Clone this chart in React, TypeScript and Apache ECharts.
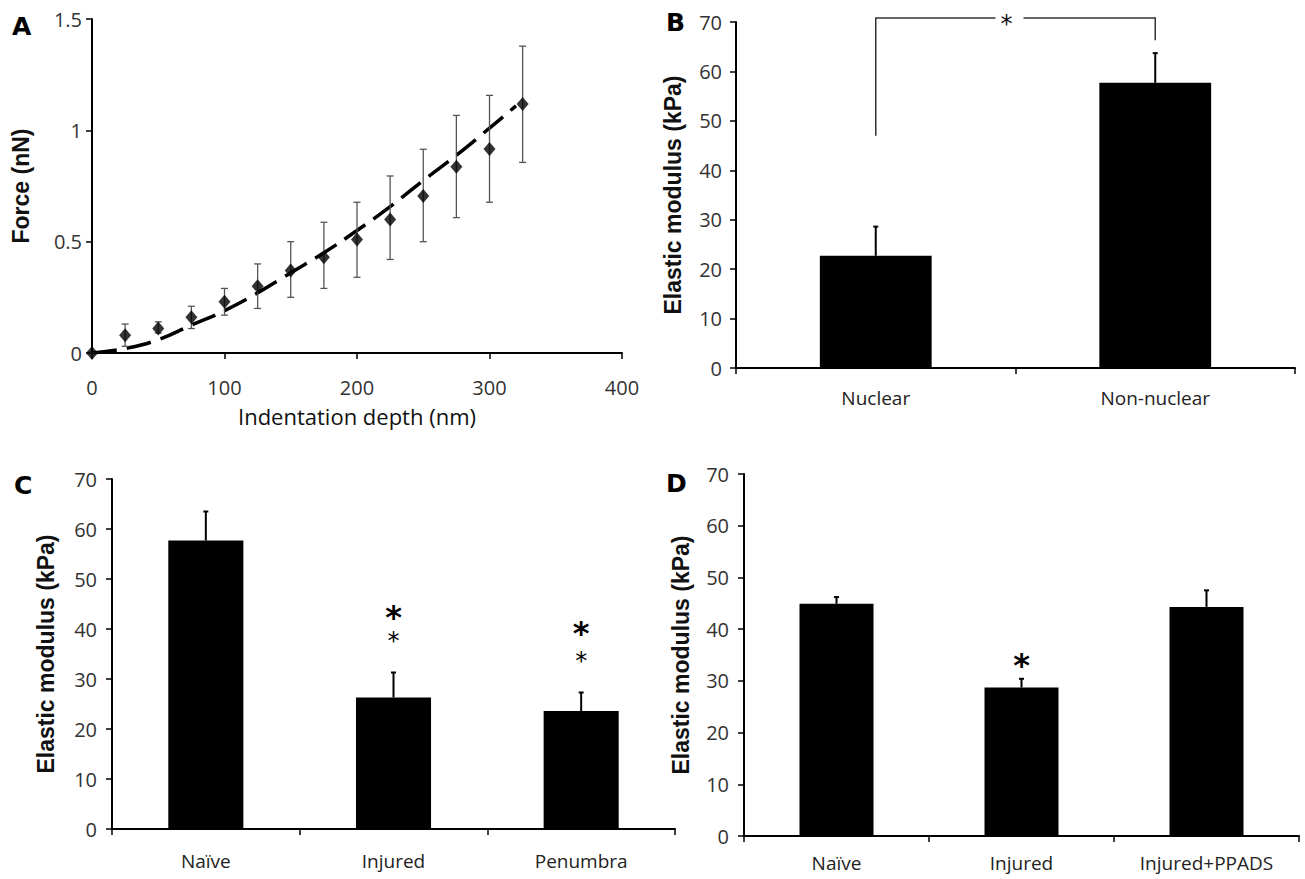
import React, { useEffect, useRef } from "react";
import * as echarts from "echarts";

// Panel A: force vs indentation depth
const depthNm = [0, 25, 50, 75, 100, 125, 150, 175, 200, 225, 250, 275, 300, 325];
const forceMean = [0, 0.08, 0.11, 0.16, 0.23, 0.3, 0.37, 0.43, 0.51, 0.6, 0.705, 0.837, 0.916, 1.118];
const forceLow = [0, 0.03, 0.09, 0.11, 0.17, 0.2, 0.25, 0.29, 0.34, 0.42, 0.5, 0.608, 0.677, 0.856];
const forceHigh = [0, 0.13, 0.14, 0.21, 0.29, 0.4, 0.5, 0.587, 0.677, 0.795, 0.915, 1.067, 1.157, 1.378];
const fitDepth = [0, 25, 50, 75, 100, 125, 150, 175, 200, 225, 250, 275, 300, 320];
const fitForce = [0, 0.02, 0.06, 0.125, 0.19, 0.27, 0.36, 0.45, 0.55, 0.657, 0.775, 0.888, 1.01, 1.11];
const aXTicks = [0, 400, 100];
const aYTicks = [0, 1.5, 0.5];

// Panel B
const bCats = ["Nuclear", "Non-nuclear"];
const bMean = [22.7, 57.7];
const bSem = [5.9, 6.0];
// bracket: left category, left bottom, top, right category, right bottom
const bBracket = [0, 47.0, 70.8, 1, 66.3];

// Panel C
const cCats = ["Naïve", "Injured", "Penumbra"];
const cMean = [57.7, 26.3, 23.6];
const cSem = [5.8, 5.0, 3.7];
const cStarCats = [1, 2];
const cBigStarY = [43.3, 40.1];
const cSmallStarY = [38.5, 34.5];

// Panel D
const dCats = ["Naïve", "Injured", "Injured+PPADS"];
const dMean = [44.9, 28.7, 44.3];
const dSem = [1.3, 1.7, 3.2];
const dStarCats = [1];
const dBigStarY = [34.0];

const modTicks = [0, 70, 10];

const TICK_FONT = "'Open Sans', sans-serif";
const BOLD_FONT = "'Liberation Sans', Arial, sans-serif";
const STAR_FONT = "'DejaVu Sans', sans-serif";
const BIG_STAR = 32;
const SMALL_STAR = 24;
const GLYPH_SHIFT = 0.14;

function errRender(capHalf: number, lineW: number, color: string, lowCap: boolean) {
  return (_params: any, api: any) => {
    const x = api.value(0);
    const lo = api.value(1);
    const hi = api.value(2);
    const pLo = api.coord([x, lo]);
    const pHi = api.coord([x, hi]);
    const style = { stroke: color, lineWidth: lineW, fill: "none" };
    const children: any[] = [
      { type: "line", shape: { x1: pLo[0], y1: pLo[1], x2: pHi[0], y2: pHi[1] }, style },
      { type: "line", shape: { x1: pHi[0] - capHalf, y1: pHi[1], x2: pHi[0] + capHalf, y2: pHi[1] }, style },
    ];
    if (lowCap) {
      children.push({
        type: "line",
        shape: { x1: pLo[0] - capHalf, y1: pLo[1], x2: pLo[0] + capHalf, y2: pLo[1] },
        style,
      });
    }
    return { type: "group", children };
  };
}

// one big bold star above one small star, as a single two-line text
function starPairRender(_params: any, api: any) {
  const x = api.value(0);
  const pBig = api.coord([x, api.value(1)]);
  const pSmall = api.coord([x, api.value(2)]);
  const gap = pSmall[1] - pBig[1];
  const top = pBig[1] - gap / 2 + BIG_STAR * GLYPH_SHIFT;
  return {
    type: "text",
    x: pBig[0],
    y: top,
    style: {
      text: "{b|*}\n{s|*}",
      align: "center",
      verticalAlign: "top",
      fill: "#000",
      rich: {
        b: { fontSize: BIG_STAR, fontWeight: "bold", fontFamily: STAR_FONT, lineHeight: gap, fill: "#000", align: "center" },
        s: { fontSize: SMALL_STAR, fontFamily: STAR_FONT, lineHeight: gap, fill: "#000", align: "center" },
      },
    },
  };
}

function starRender(_params: any, api: any) {
  const x = api.value(0);
  const p = api.coord([x, api.value(1)]);
  return {
    type: "text",
    x: p[0],
    y: p[1] + BIG_STAR * GLYPH_SHIFT,
    style: {
      text: "*",
      fontSize: BIG_STAR,
      fontWeight: "bold",
      fontFamily: STAR_FONT,
      fill: "#000",
      align: "center",
      verticalAlign: "middle",
    },
  };
}

function bracketRender(_params: any, api: any) {
  const lc = api.value(0);
  const lb = api.value(1);
  const top = api.value(2);
  const rc = api.value(3);
  const rb = api.value(4);
  const p1 = api.coord([lc, lb]);
  const p2 = api.coord([lc, top]);
  const p3 = api.coord([rc, top]);
  const p4 = api.coord([rc, rb]);
  const mid = (p2[0] + p3[0]) / 2 - 6;
  const gap = 14;
  const style = { stroke: "#333", lineWidth: 1.5, fill: "none" };
  return {
    type: "group",
    children: [
      { type: "polyline", shape: { points: [p1, p2, [mid - gap, p2[1]]] }, style },
      { type: "polyline", shape: { points: [[mid + gap, p3[1]], p3, p4] }, style },
      {
        type: "text",
        x: mid - 3,
        y: p2[1] + 24 * GLYPH_SHIFT + 3,
        style: {
          text: "*",
          fontSize: 24,
          fontFamily: STAR_FONT,
          fill: "#111",
          align: "center",
          verticalAlign: "middle",
        },
      },
    ],
  };
}

const axisLine = { show: true, lineStyle: { color: "#000", width: 2 } };
const axisTick = { show: true, length: 6, lineStyle: { color: "#000", width: 1.5 } };
const tickLabel = { color: "#333", fontFamily: TICK_FONT, fontSize: 20 };
const catLabel = { color: "#222", fontFamily: TICK_FONT, fontSize: 19 };
const yTitle = { fontFamily: BOLD_FONT, fontWeight: "bold" as const, fontSize: 23, color: "#111" };

function valueY(gridIndex: number, ticks: number[], labelMargin: number, name: string, nameGap: number) {
  return {
    type: "value",
    gridIndex,
    min: ticks[0],
    max: ticks[1],
    interval: ticks[2],
    axisLine,
    axisTick,
    splitLine: { show: false },
    axisLabel: { ...tickLabel, margin: labelMargin, formatter: (v: number) => String(v) },
    name,
    nameLocation: "middle",
    nameGap,
    nameTextStyle: yTitle,
  };
}

function catX(gridIndex: number, cats: string[], margin: number) {
  return {
    type: "category",
    gridIndex,
    data: cats,
    axisLine,
    axisTick,
    axisLabel: { ...catLabel, margin, interval: 0 },
    splitLine: { show: false },
  };
}

function barSeries(idx: number, values: number[]) {
  return {
    type: "bar",
    xAxisIndex: idx,
    yAxisIndex: idx,
    data: values,
    barWidth: "40%",
    itemStyle: { color: "#000" },
    z: 2,
  };
}

function barErr(idx: number, values: number[], sems: number[]) {
  return {
    type: "custom",
    xAxisIndex: idx,
    yAxisIndex: idx,
    renderItem: errRender(2.5, 2, "#000", false),
    data: values.map((v, i) => [i, v, +(v + sems[i]).toFixed(2)]),
    clip: false,
    z: 3,
  };
}

export default function App() {
  const ref = useRef<HTMLDivElement>(null);

  useEffect(() => {
    if (!ref.current) return;
    const chart = echarts.init(ref.current, undefined, { renderer: "svg" });
    const option: any = {
      animation: false,
      backgroundColor: "#fff",
      grid: [
        { left: 92, top: 19, width: 530, height: 334 },
        { left: 736, top: 22, width: 559, height: 346 },
        { left: 112, top: 479, width: 563, height: 350 },
        { left: 744, top: 474, width: 555, height: 362 },
      ],
      xAxis: [
        {
          type: "value",
          gridIndex: 0,
          min: aXTicks[0],
          max: aXTicks[1],
          interval: aXTicks[2],
          axisLine,
          axisTick,
          splitLine: { show: false },
          axisLabel: { ...tickLabel, margin: 24 },
          name: "Indentation depth (nm)",
          nameLocation: "middle",
          nameGap: 52,
          nameTextStyle: { fontFamily: TICK_FONT, fontSize: 22, color: "#111" },
        },
        catX(1, bCats, 20),
        catX(2, cCats, 22),
        catX(3, dCats, 17),
      ],
      yAxis: [
        valueY(0, aYTicks, 10, "Force (nN)", 60),
        valueY(1, modTicks, 14, "Elastic modulus (kPa)", 52),
        valueY(2, modTicks, 15, "Elastic modulus (kPa)", 55),
        valueY(3, modTicks, 15, "Elastic modulus (kPa)", 52),
      ],
      graphic: [
        { type: "text", left: 12, top: 14, style: { text: "A", font: "bold 25px 'DejaVu Sans'", fill: "#000" } },
        { type: "text", left: 666, top: 10, style: { text: "B", font: "bold 25px 'DejaVu Sans'", fill: "#000" } },
        { type: "text", left: 14, top: 473, style: { text: "C", font: "bold 25px 'DejaVu Sans'", fill: "#000" } },
        { type: "text", left: 666, top: 471, style: { text: "D", font: "bold 25px 'DejaVu Sans'", fill: "#000" } },
      ],
      series: [
        {
          type: "line",
          xAxisIndex: 0,
          yAxisIndex: 0,
          data: fitDepth.map((d, i) => [d, fitForce[i]]),
          smooth: true,
          showSymbol: false,
          lineStyle: { color: "#000", width: 3.5, type: [25, 10] },
          z: 2,
        },
        {
          type: "custom",
          xAxisIndex: 0,
          yAxisIndex: 0,
          renderItem: errRender(3.5, 1.3, "#555", true),
          data: depthNm.map((d, i) => [d, forceLow[i], forceHigh[i]]),
          clip: false,
          z: 3,
        },
        {
          type: "scatter",
          xAxisIndex: 0,
          yAxisIndex: 0,
          data: depthNm.map((d, i) => [d, forceMean[i]]),
          symbol: "diamond",
          symbolSize: [12, 14],
          itemStyle: { color: "#000" },
          z: 4,
        },
        barSeries(1, bMean),
        barErr(1, bMean, bSem),
        {
          type: "custom",
          xAxisIndex: 1,
          yAxisIndex: 1,
          renderItem: bracketRender,
          data: [bBracket],
          clip: false,
          z: 4,
        },
        barSeries(2, cMean),
        barErr(2, cMean, cSem),
        {
          type: "custom",
          xAxisIndex: 2,
          yAxisIndex: 2,
          renderItem: starPairRender,
          data: cStarCats.map((c, i) => [c, cBigStarY[i], cSmallStarY[i]]),
          clip: false,
          z: 4,
        },
        barSeries(3, dMean),
        barErr(3, dMean, dSem),
        {
          type: "custom",
          xAxisIndex: 3,
          yAxisIndex: 3,
          renderItem: starRender,
          data: dStarCats.map((c, i) => [c, dBigStarY[i]]),
          clip: false,
          z: 4,
        },
      ],
    };
    chart.setOption(option);
    return () => chart.dispose();
  }, []);

  return (
    <div
      ref={ref}
      style={{ position: "absolute", left: 0, top: 0, width: 1305, height: 879, background: "#fff" }}
    />
  );
}
